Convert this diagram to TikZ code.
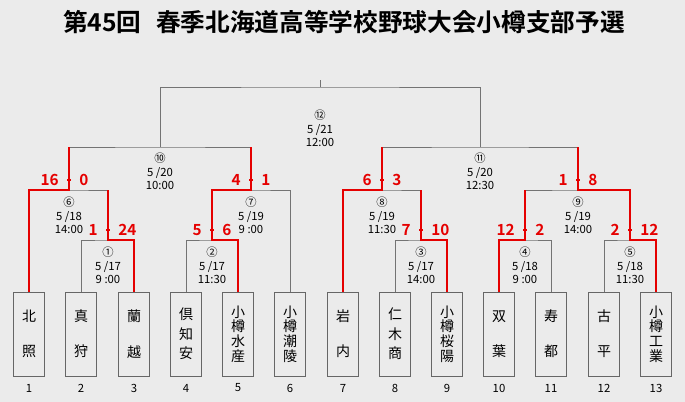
\documentclass[tikz,border=0pt]{standalone}
\usepackage{fontspec}
\setmainfont{Noto Sans CJK JP}
\newfontfamily\jpb{Noto Sans CJK JP}[BoldFont={* Bold}]
\begin{document}
\begin{tikzpicture}[x=0.75pt,y=-0.75pt,
  ln/.style={draw=black!55, line width=0.7pt},
  win/.style={draw=red!90!black, line width=1.6pt},
  team/.style={draw=black!60, line width=0.6pt, minimum width=23.5pt, minimum height=63pt, inner sep=0pt, anchor=north},
  lbl/.style={font=\fontsize{8.5}{9.5}\selectfont, align=center, inner sep=0pt},
  sc/.style={text=red!90!black, font=\jpb\bfseries\fontsize{11.5}{12}\selectfont, inner sep=0pt},
  num/.style={font=\fontsize{8.5}{9}\selectfont, inner sep=0pt}]
\fill[black!8] (0,0) rectangle (685,402);
\useasboundingbox (0,0) rectangle (685,402);
\node[font=\jpb\bfseries\fontsize{18.5}{20}\selectfont, inner sep=0pt] (title) at (344,22) {第45回\hspace{0.6em}春季北海道高等学校野球大会小樽支部予選};
% teams
\foreach \i/\x/\t in {1/29/{北\\[14pt]照},2/81/{真\\[14pt]狩},3/134/{蘭\\[14pt]越},4/186/{倶\\[2pt]知\\[2pt]安},5/238/{小\\[-1.5pt]樽\\[-1.5pt]水\\[-1.5pt]産},6/290/{小\\[-1.5pt]樽\\[-1.5pt]潮\\[-1.5pt]陵},7/343/{岩\\[14pt]内},8/395/{仁\\[2pt]木\\[2pt]商},9/447/{小\\[-1.5pt]樽\\[-1.5pt]桜\\[-1.5pt]陽},10/499/{双\\[14pt]葉},11/551/{寿\\[14pt]都},12/604/{古\\[14pt]平},13/656/{小\\[-1.5pt]樽\\[-1.5pt]工\\[-1.5pt]業}}{
  \node[team] (t\i) at (\x,292) {};
  \node[font=\fontsize{10.5}{12.5}\selectfont, align=center, inner sep=0pt] (n\i) at (\x,334) {\t};
  \node[num] (k\i) at (\x,388) {\i};
}
\coordinate (m1) at (108,240); \coordinate (m2) at (212,240);
\coordinate (m3) at (421,240); \coordinate (m4) at (525,240);
\coordinate (m5) at (630,240);
\coordinate (m6) at (69,190); \coordinate (m7) at (251,190);
\coordinate (m8) at (382,190); \coordinate (m9) at (578,190);
\coordinate (m10) at (160,147); \coordinate (m11) at (480,147);
\coordinate (m12) at (320,87); \coordinate (top) at (320,80);
% grey lines
\draw[ln] (t2.north) |- (m1) -| (t3.north);
\draw[ln] (t4.north) |- (m2) -| (t5.north);
\draw[ln] (t8.north) |- (m3) -| (t9.north);
\draw[ln] (t10.north) |- (m4) -| (t11.north);
\draw[ln] (t12.north) |- (m5) -| (t13.north);
\draw[ln] (t1.north) |- (m6) -| (m1);
\draw[ln] (m2) |- (m7) -| (t6.north);
\draw[ln] (t7.north) |- (m8) -| (m3);
\draw[ln] (m4) |- (m9) -| (m5);
\draw[ln] (m6) |- (m10) -| (m7);
\draw[ln] (m8) |- (m11) -| (m9);
\draw[ln] (m10) |- (m12) -| (m11);
\draw[ln] (m12) -- (top);
% winners
\draw[win] (t3.north) |- (m1) -- (108,190);
\draw[win] (t5.north) |- (m2) -- (212,190);
\draw[win] (t9.north) |- (m3) -- (421,190);
\draw[win] (t10.north) |- (m4) -- (525,190);
\draw[win] (t13.north) |- (m5) -- (630,190);
\draw[win] (t1.north) |- (m6) -- (69,147);
\draw[win] (m2) |- (m7) -- (251,147);
\draw[win] (t7.north) |- (m8) -- (382,147);
\draw[win] (m5) |- (m9) -- (578,147);
% scores
\foreach \x/\y/\a/\b/\n in {108/230/1/24/s1,212/230/5/6/s2,421/230/7/10/s3,525/230/12/2/s4,630/230/2/12/s5,69/180/16/0/s6,251/180/4/1/s7,382/180/6/3/s8,578/180/1/8/s9}{
  \node[sc, anchor=east] (\n a) at (\x-10,\y) {\a};
  \node[sc, anchor=west] (\n b) at (\x+10,\y) {\b};
  \draw[win, line width=1pt] ([xshift=6pt]\n a.east) -- ([xshift=-6pt]\n b.west);
}
% match labels
\foreach \x/\y/\c/\d/\t/\n in {108/252/{①}/{5 /17}/{9 :00}/l1,212/252/{②}/{5 /17}/{11:30}/l2,421/252/{③}/{5 /17}/{14:00}/l3,525/252/{④}/{5 /18}/{9 :00}/l4,630/252/{⑤}/{5 /18}/{11:30}/l5,69/202/{⑥}/{5 /18}/{14:00}/l6,251/202/{⑦}/{5 /19}/{9 :00}/l7,382/202/{⑧}/{5 /19}/{11:30}/l8,578/202/{⑨}/{5 /19}/{14:00}/l9,160/158/{⑩}/{5 /20}/{10:00}/l10,480/158/{⑪}/{5 /20}/{12:30}/l11,320/115/{⑫}/{5 /21}/{12:00}/l12}{
  \node[lbl, anchor=north] (\n) at (\x,\y-5) {\c\\[0.5pt]\d\\[0.5pt]\t};
}
\end{tikzpicture}
\end{document}
